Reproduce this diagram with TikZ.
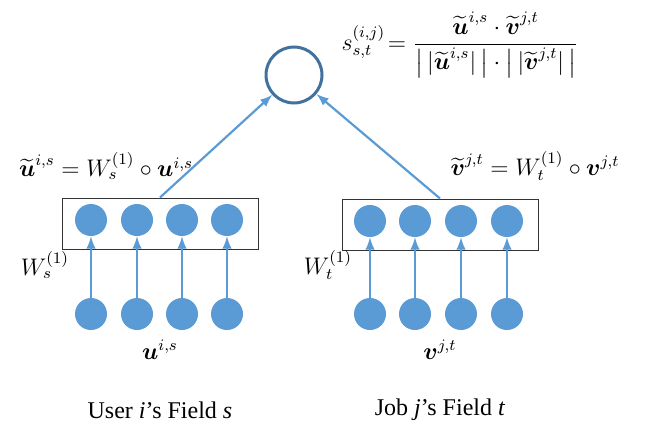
\documentclass[tikz,border=0pt]{standalone}
\usepackage{amsmath}
\usepackage{amssymb}
\usepackage{fontspec}
\setmainfont{Liberation Serif}
\usetikzlibrary{positioning}

\definecolor{unitblue}{HTML}{5B9BD5}
\definecolor{ringblue}{HTML}{41719C}

\begin{document}
\begin{tikzpicture}[
    x=0.5pt, y=-0.5pt,
    % Define unit and field styles
    unit/.style={circle, fill=unitblue, minimum size=16pt, inner sep=0pt},
    field/.style={draw=black!80, line width=0.5pt, minimum width=98pt, minimum height=25.5pt, inner sep=0pt},
    link/.style={->, >=latex, unitblue, line width=1.1pt},
    eqn/.style={font=\large, inner sep=1pt}
]

\useasboundingbox (0,0) rectangle (647,428);

% Similarity node
\node[circle, draw=ringblue, line width=1.5pt, minimum size=28pt, inner sep=0pt] (sim) at (294,75) {};
\node[eqn] (simeq) at (460,45) {$s_{s,t}^{(i,j)}\!=\dfrac{\widetilde{\boldsymbol{u}}^{i,s}\cdot\widetilde{\boldsymbol{v}}^{j,t}}{\bigl|\,|\widetilde{\boldsymbol{u}}^{i,s}|\,\bigr|\cdot\bigl|\,|\widetilde{\boldsymbol{v}}^{j,t}|\,\bigr|}$};

% Field boxes
\node[field] (ubox) at (160,223.5) {};
\node[field] (vbox) at (440,224.5) {};

% Units, inputs and weighted units
\foreach \i/\xu/\xv in {1/91/370, 2/137/415, 3/182/461, 4/227/507} {
    \node[unit] (u\i) at (\xu,314) {};
    \node[unit] (eu\i) at (\xu,220) {};
    \node[unit] (v\i) at (\xv,314) {};
    \node[unit] (ev\i) at (\xv,221) {};
    \draw[link] (u\i) -- (eu\i);
    \draw[link] (v\i) -- (ev\i);
}

% Links to similarity node
\draw[link] (ubox.north) -- (sim);
\draw[link] (vbox.north) -- (sim);

% Labels
\node[eqn] (ueq) at (106,166) {$\widetilde{\boldsymbol{u}}^{i,s} = W_s^{(1)} \circ \boldsymbol{u}^{i,s}$};
\node[eqn] (veq) at (535,166) {$\widetilde{\boldsymbol{v}}^{j,t} = W_t^{(1)} \circ \boldsymbol{v}^{j,t}$};
\node[eqn] (uw) at (45,265) {$W_s^{(1)}$};
\node[eqn] (vw) at (328,265) {$W_t^{(1)}$};
\node[eqn] (uin) at (160,350) {$\boldsymbol{u}^{i,s}$};
\node[eqn] (vin) at (440,350) {$\boldsymbol{v}^{j,t}$};
\node[font=\large] (ucap) at (160,410) {User \textit{i}'s Field \textit{s}};
\node[font=\large] (vcap) at (440,410) {Job \textit{j}'s Field \textit{t}};

\end{tikzpicture}
\end{document}
